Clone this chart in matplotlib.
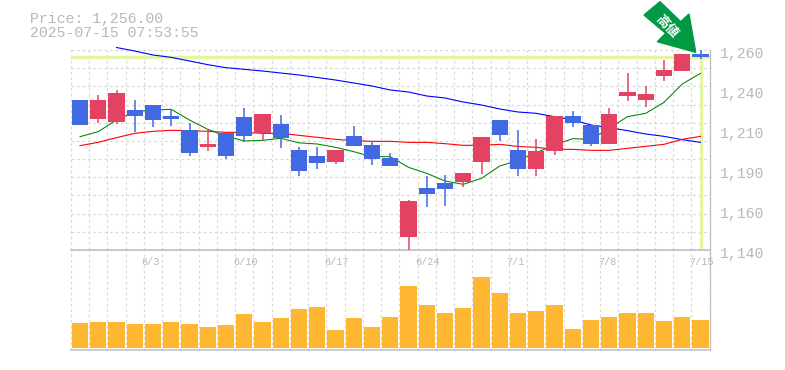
import matplotlib
matplotlib.use('Agg')
import matplotlib.pyplot as plt
import numpy as np
from matplotlib.patches import Polygon

# candles, oldest first
opens = [1230, 1218.6, 1216.8, 1224, 1227, 1220.4, 1212, 1201.8, 1210.2, 1219.8, 1210.2, 1215.6,
         1200, 1196.4, 1192.8, 1208.4, 1203, 1195.2, 1147.8, 1177.2, 1180.2, 1180.8, 1192.8, 1218,
         1200, 1188.6, 1199.4, 1220.4, 1215, 1203.6, 1232.4, 1230, 1244.4, 1247.4, 1257.6]
closes = [1215, 1230, 1234.2, 1220.4, 1218, 1218.6, 1198.2, 1203.6, 1196.4, 1208.4, 1221.6, 1207.2,
          1187.4, 1192.2, 1200, 1202.4, 1194.6, 1190.4, 1169.4, 1173.6, 1176.6, 1186.2, 1207.8, 1209,
          1188.6, 1199.4, 1220.4, 1216.2, 1203.6, 1221.6, 1234.8, 1233.6, 1248, 1257.6, 1256]
highs = [1230, 1233, 1236, 1230, 1227, 1224.6, 1216.2, 1212, 1210.2, 1225.2, 1221.6, 1221,
         1201.8, 1201.8, 1200, 1214.4, 1205.4, 1198.2, 1170, 1184.4, 1185, 1186.2, 1207.8, 1218,
         1212, 1206.6, 1220.4, 1223.4, 1215, 1225.2, 1246.2, 1238.4, 1254, 1257.6, 1260]
lows = [1215, 1216.2, 1215.6, 1210.8, 1213.8, 1214.4, 1196.4, 1199.4, 1194.6, 1204.8, 1205.4, 1201.2,
        1184.4, 1188.6, 1191.6, 1202.4, 1191, 1190.4, 1140, 1165.8, 1166.4, 1177.8, 1185.6, 1205.4,
        1184.4, 1184.4, 1197, 1213.8, 1202.4, 1203.6, 1229.4, 1225.8, 1241.4, 1247.4, 1254.6]
volumes = [25, 26, 26, 24, 24, 26, 24, 21, 23, 34, 26, 30, 39, 41, 18, 30, 21, 31,
           62, 43, 35, 40, 71, 55, 35, 37, 43, 19, 28, 31, 35, 35, 27, 31, 28]

# moving averages
ma_short = [1208, 1211, 1218, 1223, 1224, 1224.4, 1218, 1212.4, 1208.4, 1205.4, 1205.8, 1207,
            1204.3, 1203.6, 1201.6, 1199, 1196, 1196, 1189.6, 1186, 1181.4, 1179.4, 1183, 1190.4,
            1193.7, 1198.4, 1203, 1206.8, 1206.4, 1213, 1220, 1222, 1228.6, 1239.6, 1246]
ma_mid = [1202.6, 1204.6, 1207.4, 1210, 1211.2, 1211.8, 1211.6, 1211.2, 1210.6, 1210.6, 1210, 1210,
          1208.8, 1207.6, 1206.4, 1205.6, 1205.2, 1205.2, 1204.6, 1204.6, 1203.8, 1202.8, 1202.8, 1203.4,
          1202.1, 1201.6, 1200.4, 1200.4, 1199.8, 1199.8, 1201, 1202.2, 1203.4, 1206.4, 1208.2]
ma_long = [np.nan, np.nan, 1261.5, 1259.4, 1257, 1255.6, 1253.4, 1251.2, 1249.4, 1248.4, 1247.4, 1246.2,
           1245, 1243.5, 1242, 1240.2, 1238.4, 1236, 1234.8, 1232.4, 1231.2, 1228.8, 1227, 1224.6,
           1222.8, 1222, 1220, 1218, 1215, 1213.4, 1211.6, 1209.6, 1208.2, 1206.2, 1204.6]

last_price = 1256
price_ticks = [1260, 1236, 1212, 1188, 1164, 1140]
price_labels = ['1,260', '1,240', '1,210', '1,190', '1,160', '1,140']
date_positions = [4, 9, 14, 19, 24, 29, 34]
date_labels = ['6/3', '6/10', '6/17', '6/24', '7/1', '7/8', '7/15']

UP = '#E34262'
DOWN = '#4169E1'
GRID = '#D9D9D9'
AXIS = '#BFBFBF'
TEXT = '#B8B8B8'
LIME = '#E4F5A6'
W, H = 785, 370

x = np.arange(len(opens))
fig = plt.figure(figsize=(W / 100, H / 100), dpi=100)
left = 70.875 / W
width = 638.75 / W
ax = fig.add_axes([left, (H - 250) / H, width, 200 / H])
vol = fig.add_axes([left, (H - 350) / H, width, 100 / H])

for a in (ax, vol):
    a.set_xlim(-0.5, 34.5)
    a.set_xticks(np.arange(-0.5, 35, 1))
    a.tick_params(length=0, labelbottom=False, labelleft=False)
    a.grid(axis='x', color=GRID, lw=0.9, linestyle=(0, (2.2, 2.2)))
    a.set_axisbelow(True)
    for side in a.spines:
        a.spines[side].set_visible(False)
    a.spines['right'].set_visible(True)
    a.spines['right'].set_color(AXIS)
    a.spines['right'].set_linewidth(0.9)

ax.set_ylim(1140, 1260)
ax.set_yticks(np.linspace(1140, 1260, 12))
ax.grid(axis='y', color=GRID, lw=0.9, linestyle=(0, (2.2, 2.2)))
ax.spines['bottom'].set_visible(True)
ax.spines['bottom'].set_color(AXIS)
ax.spines['bottom'].set_linewidth(1.1)
ax.patch.set_alpha(0)
for line in ax.get_xgridlines() + ax.get_ygridlines() + vol.get_xgridlines():
    line.set_clip_on(False)

# current price marker
ax.axhline(last_price, color=LIME, lw=2.4, zorder=1.5)
ax.plot([x[-1], x[-1]], [1140.6, last_price], color=LIME, lw=2.4, zorder=1.5, solid_capstyle='butt')

ax.plot(x, ma_long, color='#0000FF', lw=0.8, zorder=2, clip_on=False)
ax.plot(x, ma_mid, color='#FF0000', lw=0.8, zorder=2)
ax.plot(x, ma_short, color='#008000', lw=0.75, zorder=2)

colors = [UP if c > o else DOWN for o, c in zip(opens, closes)]
ax.vlines(x, lows, highs, colors=colors, lw=1.1, zorder=3)
ax.bar(x, np.abs(np.subtract(closes, opens)), bottom=np.minimum(opens, closes), width=0.877,
       color=colors, zorder=3)

# volume
vol.set_ylim(-2, 98)
vol.set_yticks([])
vol.bar(x, volumes, width=0.877, color='#FFB733', zorder=3)
vol.spines['bottom'].set_visible(True)
vol.spines['bottom'].set_color(AXIS)
vol.spines['bottom'].set_linewidth(1.1)
vol.patch.set_alpha(0)

# labels
for v, label in zip(price_ticks, price_labels):
    ax.annotate(label, (1, v), xycoords=('axes fraction', 'data'), xytext=(10.5, -4),
                textcoords='offset pixels', ha='left', va='center', color=TEXT,
                family='Liberation Mono', fontsize=10.7, annotation_clip=False)
for p, label in zip(date_positions, date_labels):
    vol.annotate(label, (p, 1), xycoords=('data', 'axes fraction'), xytext=(-11.5, -12),
                 textcoords='offset pixels', ha='left', va='center', color=TEXT,
                 family='Liberation Mono', fontsize=7.3, annotation_clip=False)

fig.text(30 / W, 1 - 19 / H, 'Price: 1,256.00', color=TEXT, family='Liberation Mono',
         fontsize=10.7, va='center')
fig.text(30 / W, 1 - 33 / H, '2025-07-15 07:53:55', color=TEXT, family='Liberation Mono',
         fontsize=10.7, va='center')

# green arrow badge
arrow = [(660, 1.7), (644, 15), (665.7, 33.3), (657.3, 41.7), (695.7, 52.3), (689, 14), (680.7, 21.7)]
fig.add_artist(Polygon([(px / W, 1 - py / H) for px, py in arrow], closed=True, color='#009944',
                       transform=fig.transFigure, zorder=5))
fig.text(667 / W, 1 - 26 / H, '高値', color='white', family='Noto Sans CJK JP', weight='bold',
         fontsize=9.5, rotation=-47, ha='center', va='center', rotation_mode='anchor', zorder=6)

fig.savefig('out.png', dpi=100)
